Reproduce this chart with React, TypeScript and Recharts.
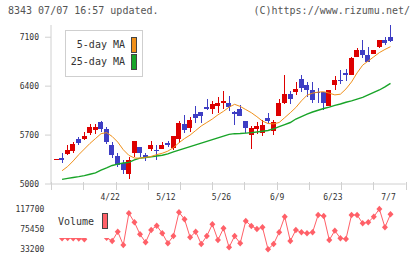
import React from "react";
import { ComposedChart, Bar, Line, XAxis, YAxis, Legend } from "recharts";

// trading days shown on the chart
const dates = [
  "4/8", "4/9", "4/10", "4/11", "4/14", "4/15", "4/16", "4/17", "4/18", "4/21",
  "4/22", "4/23", "4/24", "4/25", "4/28", "4/30", "5/1", "5/2", "5/8", "5/9",
  "5/12", "5/13", "5/14", "5/15", "5/16", "5/19", "5/20", "5/21", "5/22", "5/23",
  "5/26", "5/27", "5/28", "5/29", "5/30", "6/2", "6/3", "6/4", "6/5", "6/6",
  "6/9", "6/10", "6/11", "6/12", "6/13", "6/16", "6/17", "6/18", "6/19", "6/20",
  "6/23", "6/24", "6/25", "6/26", "6/27", "6/30", "7/1", "7/2", "7/3", "7/4",
  "7/7",
];

const opens = [
  5355, 5375, 5429, 5470, 5645, 5645, 5735, 5775, 5890, 5790,
  5560, 5405, 5300, 5143, 5440, 5530, 5415, 5500, 5490, 5500,
  5585, 5510, 5645, 5860, 5805, 6000, 6030, 6095, 6080, 6115,
  6165, 6165, 6030, 6070, 5900, 5700, 5790, 5735, 5940, 5760,
  5980, 6155, 6290, 6320, 6500, 6415, 6345, 6315, 6310, 6120,
  6415, 6488, 6595, 6560, 6815, 6915, 6845, 6860, 6955, 7060,
  7105,
];
const highs = [
  5360, 5440, 5558, 5595, 5677, 5740, 5860, 5855, 5895, 5820,
  5600, 5440, 5345, 5380, 5620, 5530, 5450, 5610, 5560, 5605,
  5615, 5690, 5900, 5990, 5955, 6115, 6035, 6215, 6190, 6240,
  6330, 6260, 6040, 6130, 5905, 5830, 5890, 5915, 6020, 5915,
  6215, 6560, 6335, 6460, 6565, 6460, 6465, 6375, 6315, 6350,
  6540, 6630, 6640, 6810, 6950, 7060, 6965, 6920, 7065, 7110,
  7275,
];
const lows = [
  5353, 5296, 5420, 5445, 5560, 5630, 5700, 5715, 5750, 5570,
  5370, 5250, 5150, 5075, 5380, 5380, 5335, 5470, 5345, 5500,
  5525, 5487, 5590, 5725, 5750, 5870, 5870, 6060, 6000, 6010,
  6070, 6050, 5845, 5970, 5725, 5505, 5710, 5680, 5870, 5700,
  5975, 6150, 6140, 6275, 6310, 6245, 6155, 6160, 6060, 6115,
  6345, 6430, 6470, 6555, 6810, 6800, 6745, 6855, 6950, 6990,
  7035,
];
const closes = [
  5358, 5340, 5487, 5570, 5585, 5690, 5820, 5815, 5785, 5605,
  5410, 5275, 5205, 5343, 5615, 5450, 5370, 5560, 5480, 5558,
  5560, 5690, 5870, 5775, 5915, 5950, 5975, 6070, 6145, 6155,
  6190, 6105, 6005, 5975, 5805, 5797, 5830, 5845, 5900, 5890,
  6155, 6290, 6215, 6360, 6380, 6340, 6200, 6310, 6165, 6345,
  6490, 6480, 6555, 6800, 6915, 6850, 6750, 6915, 7060, 7015,
  7040,
];

const ma5 = [
  null, 5190, 5250, 5330, 5420, 5500, 5580, 5650, 5720, 5735,
  5680, 5600, 5490, 5410, 5372, 5370, 5380, 5395, 5420, 5440,
  5470, 5520, 5590, 5650, 5700, 5765, 5830, 5880, 5930, 5990,
  6040, 6100, 6140, 6110, 6065, 6020, 5963, 5900, 5865, 5860,
  5880, 5950, 6020, 6095, 6190, 6270, 6300, 6315, 6320, 6300,
  6275, 6285, 6360, 6460, 6590, 6700, 6760, 6820, 6880, 6925,
  6965,
];
const ma25 = [
  null, 5067, 5080, 5093, 5105, 5120, 5140, 5160, 5200, 5230,
  5265, 5285, 5300, 5310, 5345, 5370, 5380, 5388, 5400, 5412,
  5430, 5460, 5485, 5510, 5535, 5560, 5585, 5610, 5635, 5660,
  5685, 5710, 5720, 5722, 5728, 5735, 5745, 5755, 5765, 5790,
  5820, 5850, 5880, 5930, 5965, 6000, 6030, 6055, 6080, 6100,
  6125, 6145, 6170, 6190, 6215, 6240, 6275, 6310, 6345, 6390,
  6440,
];

const volumes = [
  null, 56300, 57000, 56500, 56000, 54200, 74000, 78000, 70000, 57500,
  50600, 70100, 42200, 108700, 89800, 64600, 47900, 73700, 82700, 66800,
  45800, 61100, 110800, 96100, 58400, 70100, 44300, 61100, 85600, 52700,
  77200, 37400, 61100, 45800, 92500, 82100, 75800, 79300, 33200, 44300,
  68800, 101600, 50600, 73700, 68800, 66800, 68800, 105100, 103000, 52700,
  72300, 56300, 54800, 105100, 105100, 87700, 89800, 101600, 117700, 79300,
  106600,
];

const dateTicks = ["4/22", "5/12", "5/26", "6/9", "6/23", "7/7"];
const priceTicks = [5000, 5700, 6400, 7100];
const volumeTicks = [33200, 75450, 117700];
// the day axis runs a little past both ends; short marks split it into 11 equal parts
const dayDomain = [-0.99, 62.73];
const markTicks = [
  -0.99, 4.8, 10.6, 16.39, 22.18, 27.97, 33.77, 39.56, 45.35, 51.14, 56.94, 62.73,
];

const labelIdx = dateTicks.map((d) => dates.indexOf(d));

const rows = dates.map((date, i) => ({
  idx: i,
  date,
  open: opens[i],
  high: highs[i],
  low: lows[i],
  close: closes[i],
  range: [lows[i], highs[i]],
  ma5: ma5[i],
  ma25: ma25[i],
  vol: volumes[i],
}));

const UP = "#dd0000";
const DOWN = "#3e3ec4";
const MA5 = "#f0901a";
const MA25 = "#18a428";
const VOL = "#ff6068";
const AXIS = "#d0d0d0";
const MONO = "'DejaVu Sans Mono', monospace";

const tickStyle = { fontSize: 8, fontFamily: MONO, fill: "#333" };

// one axis draws both the short marks and the date labels
const DayTick = (props: any) => {
  const { x, y, payload } = props;
  const v = payload.value;
  if (labelIdx.includes(v)) {
    return (
      <text x={x - 2} y={y + 10} dy="0.71em" textAnchor="middle" {...tickStyle}>
        {dates[v]}
      </text>
    );
  }
  const lx = Math.round(x) + 0.5;
  return <line x1={lx} x2={lx} y1={y - 2} y2={y + 6} stroke={AXIS} shapeRendering="crispEdges" />;
};

const Candle = (props: any) => {
  const { x, y, width, height, payload } = props;
  const { open, close, high, low } = payload;
  const color = close >= open ? UP : DOWN;
  const k = height / (high - low || 1);
  const top = y + (high - Math.max(open, close)) * k;
  const bottom = y + (high - Math.min(open, close)) * k;
  const cx = Math.round(x + width / 2) + 0.5;
  return (
    <g shapeRendering="crispEdges">
      <line x1={cx} x2={cx} y1={y} y2={y + height} stroke={color} />
      <rect x={x} y={top} width={width} height={Math.max(1, bottom - top)} fill={color} />
    </g>
  );
};

const Diamond = (props: any) => {
  const { cx, cy, index } = props;
  if (cx == null || cy == null) return <g key={index} />;
  return (
    <path
      key={index}
      d={`M${cx},${cy - 3.2}L${cx + 3},${cy}L${cx},${cy + 3.2}L${cx - 3},${cy}Z`}
      fill={VOL}
    />
  );
};

const swatch = (color: string, top: number, left: number) => ({
  position: "absolute" as const,
  left,
  top,
  width: 6,
  height: 16,
  boxSizing: "border-box" as const,
  border: "1px solid #444",
  background: color,
});

const legendText = {
  position: "absolute" as const,
  fontFamily: MONO,
  fontSize: 10,
  lineHeight: "16px",
  color: "#333",
  whiteSpace: "pre" as const,
};

const MaLegend = () => (
  <div
    style={{
      position: "relative",
      width: 78,
      height: 47,
      boxSizing: "border-box",
      border: "1px solid #cfcfcf",
      background: "#fff",
    }}
  >
    <div style={{ ...legendText, left: 0, width: 59, top: 6, textAlign: "right" }}>5-day MA</div>
    <div style={{ ...legendText, left: 0, width: 59, top: 23, textAlign: "right" }}>25-day MA</div>
    <div style={swatch(MA5, 6, 65)} />
    <div style={swatch(MA25, 23, 65)} />
  </div>
);

const VolumeLegend = () => (
  <div style={{ position: "relative", width: 55, height: 28, background: "#fff" }}>
    <div style={{ ...legendText, left: 3, top: 4 }}>Volume</div>
    <div style={swatch(VOL, 3, 47)} />
  </div>
);

const App = () => {
  return (
    <div
      style={{
        position: "absolute",
        left: 0,
        top: 0,
        width: 420,
        height: 259,
        background: "#fff",
        overflow: "hidden",
      }}
    >
      <div
        style={{
          position: "absolute",
          left: 8,
          top: 6,
          fontFamily: MONO,
          fontSize: 10,
          lineHeight: "10px",
          color: "#555",
          whiteSpace: "pre",
        }}
      >
        8343 07/07 16:57 updated.
      </div>
      <div
        style={{
          position: "absolute",
          right: 10,
          top: 6,
          fontFamily: MONO,
          fontSize: 10,
          lineHeight: "10px",
          color: "#555",
          whiteSpace: "pre",
        }}
      >
        (C)https://www.rizumu.net/
      </div>

      {/* price panel */}
      <div style={{ position: "absolute", left: 0, top: 0 }}>
        <ComposedChart
          width={420}
          height={205}
          data={rows}
          margin={{ top: 25, right: 14.3, bottom: 0, left: 0 }}
        >
          <XAxis
            dataKey="idx"
            type="number"
            domain={dayDomain}
            allowDataOverflow
            ticks={[...markTicks, ...labelIdx]}
            interval={0}
            height={21}
            tickSize={0}
            tickMargin={0}
            tickLine={false}
            axisLine={{ stroke: AXIS }}
            tick={<DayTick />}
          />
          <YAxis
            width={51}
            domain={[5000, 7275]}
            ticks={priceTicks}
            allowDataOverflow
            tickSize={6}
            tickMargin={6}
            tick={tickStyle}
            axisLine={{ stroke: AXIS }}
            tickLine={{ stroke: AXIS }}
          />
          <Legend
            layout="vertical"
            align="center"
            verticalAlign="middle"
            wrapperStyle={{ left: 65, top: 30, width: 78, height: 47 }}
            content={() => <MaLegend />}
          />
          <Line
            dataKey="ma25"
            stroke={MA25}
            strokeWidth={1.4}
            dot={false}
            isAnimationActive={false}
          />
          <Line
            dataKey="ma5"
            stroke={MA5}
            strokeWidth={1}
            dot={false}
            isAnimationActive={false}
          />
          <Bar
            dataKey="range"
            barSize={5}
            shape={(p: any) => <Candle {...p} />}
            isAnimationActive={false}
          />
        </ComposedChart>
      </div>

      {/* volume panel */}
      <div style={{ position: "absolute", left: 0, top: 203 }}>
        <ComposedChart
          width={420}
          height={56}
          data={rows}
          margin={{ top: 6, right: 14.3, bottom: 9.7, left: 0 }}
        >
          <XAxis dataKey="idx" type="number" domain={dayDomain} allowDataOverflow hide />
          <YAxis
            width={51}
            domain={[33200, 117700]}
            ticks={volumeTicks}
            axisLine={false}
            tickLine={false}
            tickSize={0}
            tickMargin={6.7}
            tick={tickStyle}
          />
          <Legend
            layout="vertical"
            align="center"
            verticalAlign="middle"
            wrapperStyle={{ left: 55, top: 7, width: 55, height: 28 }}
            content={() => <VolumeLegend />}
          />
          <Line
            dataKey="vol"
            stroke={VOL}
            strokeWidth={1}
            dot={(p: any) => <Diamond {...p} />}
            isAnimationActive={false}
          />
        </ComposedChart>
      </div>
    </div>
  );
};

export default App;
